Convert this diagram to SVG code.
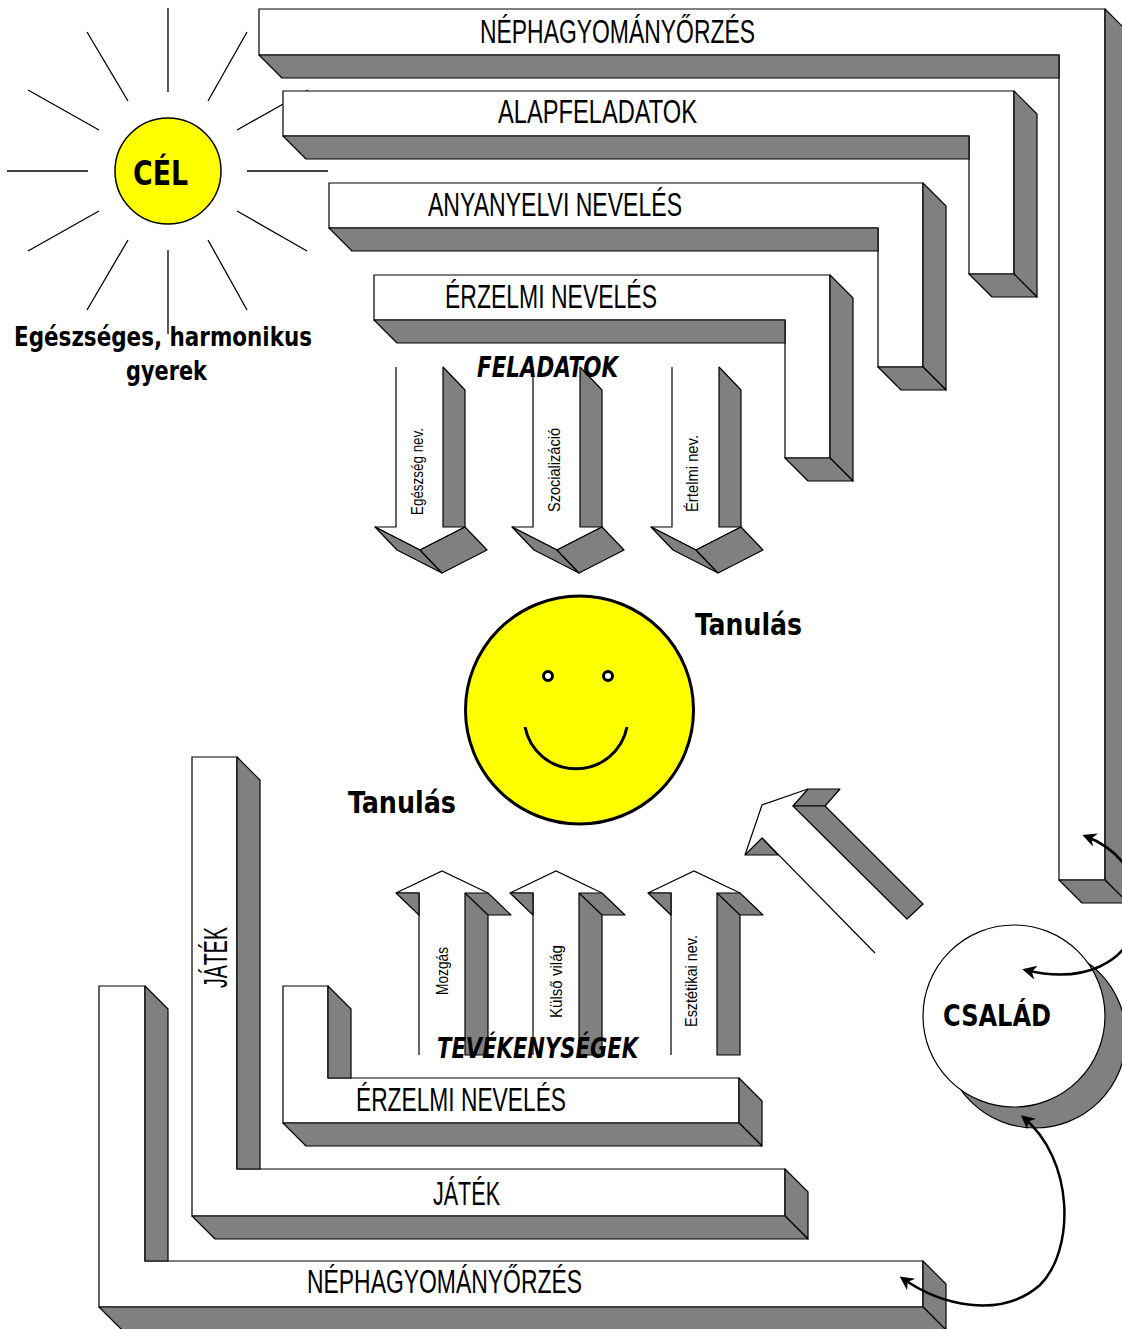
<svg xmlns="http://www.w3.org/2000/svg" width="1122" height="1329" viewBox="0 0 1122 1329">
<defs>
<style>
.g{fill:#808080;stroke:#000;stroke-width:1.2;stroke-linejoin:round}
.w{fill:#fff;stroke:#000;stroke-width:1.2}
.wf{fill:#fff;stroke:none}
.ln{fill:none;stroke:#000;stroke-width:1.2}
.ray{stroke:#000;stroke-width:1.3}
.lbl{font-family:"Liberation Sans Narrow","Liberation Sans",sans-serif;font-size:33px;fill:#000}
.sm{font-family:"Liberation Sans Narrow","Liberation Sans",sans-serif;font-size:17px;fill:#000}
.b{font-family:"DejaVu Sans Condensed","DejaVu Sans",sans-serif;font-weight:bold;fill:#000}
.bi{font-family:"DejaVu Sans Condensed","DejaVu Sans",sans-serif;font-weight:bold;font-style:italic;fill:#000}
.cur{fill:none;stroke:#000;stroke-width:2.5}
</style>
<marker id="ah" viewBox="0 0 10 10" refX="8" refY="5" markerWidth="17" markerHeight="14" markerUnits="userSpaceOnUse" orient="auto-start-reverse">
<path d="M0,0 L10,5 L0,10 L3,5 Z" fill="#000"/>
</marker>
<g id="downArrow">
<path class="wf" d="M396,367 H443 V527 H465 L420,550 L375,527 H396 Z"/>
<path class="ln" d="M396,367 V527 H375 L420,550 L465,527"/>
<path class="g" d="M443,367 L465,390 V527 H443 Z"/>
<path class="g" d="M375,527 L420,550 L442,573 L397,550 Z"/>
<path class="g" d="M420,550 L465,527 L487,550 L442,573 Z"/>
</g>
<g id="upArrow">
<path class="wf" d="M419,1055 V893 H396 L442,871 L488,893 H465 V1055 Z"/>
<path class="ln" d="M419,1055 V893 H396 L442,871 L488,893"/>
<path class="g" d="M396,893 L419,893 L419,915 Z"/>
<path class="g" d="M465,893 L488,893 L511,915 L488,915 V1055 H465 Z"/>
<path class="ln" d="M465,893 L488,915"/>
</g>
</defs>
<rect width="1122" height="1329" fill="#fff"/>

<g id="sun">
<line class="ray" x1="168" y1="8" x2="168" y2="92"/>
<line class="ray" x1="168" y1="250" x2="168" y2="334"/>
<line class="ray" x1="7" y1="171" x2="88" y2="171"/>
<line class="ray" x1="247" y1="171" x2="328" y2="171"/>
<line class="ray" x1="87" y1="32" x2="128" y2="101"/>
<line class="ray" x1="247" y1="32" x2="208" y2="101"/>
<line class="ray" x1="28" y1="90" x2="99" y2="130"/>
<line class="ray" x1="308" y1="90" x2="237" y2="130"/>
<line class="ray" x1="99" y1="211" x2="28" y2="251"/>
<line class="ray" x1="237" y1="211" x2="307" y2="251"/>
<line class="ray" x1="128" y1="240" x2="87" y2="310"/>
<line class="ray" x1="208" y1="240" x2="247" y2="310"/>
<circle cx="168" cy="171" r="53" fill="#ffff00" stroke="#000" stroke-width="1.5"/>
<text class="b" x="133" y="185" font-size="34" textLength="55" lengthAdjust="spacingAndGlyphs">CÉL</text>
<text class="b" x="14" y="346" font-size="27" textLength="298" lengthAdjust="spacingAndGlyphs">Egészséges, harmonikus</text>
<text class="b" x="126" y="380" font-size="27" textLength="81" lengthAdjust="spacingAndGlyphs">gyerek</text>
</g>

<g id="top-nephagyomany">
<path class="w" d="M259,9 H1105 V880 H1059 V55 H259 Z"/>
<path class="g" d="M259,55 L282,78 H1059 V55 Z"/>
<path class="g" d="M1105,9 L1128,32 V903 L1105,880 Z"/>
<path class="g" d="M1059,880 H1105 L1128,903 H1082 Z"/>
<text class="lbl" x="480" y="43" textLength="275" lengthAdjust="spacingAndGlyphs">NÉPHAGYOMÁNYŐRZÉS</text>
</g>
<g id="top-alapfeladatok">
<path class="w" d="M283,91 H1014 V274 H969 V136 H283 Z"/>
<path class="g" d="M283,136 L306,159 H969 V136 Z"/>
<path class="g" d="M1014,91 L1037,114 V297 L1014,274 Z"/>
<path class="g" d="M969,274 H1014 L1037,297 H992 Z"/>
<text class="lbl" x="498" y="123" textLength="199" lengthAdjust="spacingAndGlyphs">ALAPFELADATOK</text>
</g>
<g id="top-anyanyelvi">
<path class="w" d="M329,183 H923 V367 H878 V228 H329 Z"/>
<path class="g" d="M329,228 L352,251 H878 V228 Z"/>
<path class="g" d="M923,183 L946,206 V390 L923,367 Z"/>
<path class="g" d="M878,367 H923 L946,390 H901 Z"/>
<text class="lbl" x="428" y="216" textLength="254" lengthAdjust="spacingAndGlyphs">ANYANYELVI NEVELÉS</text>
</g>
<g id="top-erzelmi">
<path class="w" d="M374,275 H830 V458 H785 V320 H374 Z"/>
<path class="g" d="M374,320 L397,343 H785 V320 Z"/>
<path class="g" d="M830,275 L853,298 V481 L830,458 Z"/>
<path class="g" d="M785,458 H830 L853,481 H808 Z"/>
<text class="lbl" x="445" y="308" textLength="212" lengthAdjust="spacingAndGlyphs">ÉRZELMI NEVELÉS</text>
</g>

<g id="feladatok">
<use href="#downArrow"/>
<use href="#downArrow" transform="translate(137,0)"/>
<use href="#downArrow" transform="translate(276,0)"/>
<text class="sm" transform="translate(423,515) rotate(-90)" textLength="87" lengthAdjust="spacingAndGlyphs">Egészség nev.</text>
<text class="sm" transform="translate(560,512) rotate(-90)" textLength="84" lengthAdjust="spacingAndGlyphs">Szocializáció</text>
<text class="sm" transform="translate(698,512) rotate(-90)" textLength="77" lengthAdjust="spacingAndGlyphs">Értelmi nev.</text>
<text class="bi" x="477" y="377" font-size="29" textLength="141" lengthAdjust="spacingAndGlyphs">FELADATOK</text>
</g>

<g id="smiley">
<circle cx="579.5" cy="710" r="114" fill="#ffff00" stroke="#000" stroke-width="3"/>
<circle cx="548" cy="676" r="4.5" fill="#fff" stroke="#000" stroke-width="3"/>
<circle cx="608" cy="676" r="4.5" fill="#fff" stroke="#000" stroke-width="3"/>
<path d="M525,727 A52,52 0 0 0 627,727" fill="none" stroke="#000" stroke-width="3"/>
</g>
<text class="b" x="695" y="635" font-size="31" textLength="107" lengthAdjust="spacingAndGlyphs">Tanulás</text>
<text class="b" x="348" y="813" font-size="31" textLength="108" lengthAdjust="spacingAndGlyphs">Tanulás</text>

<g id="diag-arrow">
<path class="ln" d="M745,855 L762,805 L808,789"/>
<path class="ln" d="M762,838 L875,953"/>
<path class="g" d="M745,855 L762,838 L778,855 Z"/>
<path class="g" d="M808,789 H840 L825,806 H793 Z"/>
<path class="g" d="M793,806 H825 L923,904 L907,919 Z"/>
</g>

<g id="bottom-nephagyomany">
<path class="w" d="M99,986 H145 V1261 H923 V1307 H99 Z"/>
<path class="g" d="M145,986 L168,1009 V1261 H145 Z"/>
<path class="g" d="M923,1261 L946,1284 V1330 L923,1307 Z"/>
<path class="g" d="M99,1307 H923 L946,1330 H122 Z"/>
<text class="lbl" x="307" y="1293" textLength="275" lengthAdjust="spacingAndGlyphs">NÉPHAGYOMÁNYŐRZÉS</text>
</g>
<g id="bottom-jatek">
<path class="w" d="M192,757 H237 V1169 H785 V1216 H192 Z"/>
<path class="g" d="M237,757 L260,780 V1169 H237 Z"/>
<path class="g" d="M785,1169 L808,1192 V1239 L785,1216 Z"/>
<path class="g" d="M192,1216 H785 L808,1239 H215 Z"/>
<text class="lbl" x="433" y="1205" textLength="67" lengthAdjust="spacingAndGlyphs">JÁTÉK</text>
<text class="lbl" transform="translate(227,988) rotate(-90)" textLength="61" lengthAdjust="spacingAndGlyphs">JÁTÉK</text>
</g>
<g id="bottom-erzelmi">
<path class="w" d="M283,986 H328 V1078 H739 V1123 H283 Z"/>
<path class="g" d="M328,986 L351,1009 V1078 H328 Z"/>
<path class="g" d="M739,1078 L762,1101 V1146 L739,1123 Z"/>
<path class="g" d="M283,1123 H739 L762,1146 H306 Z"/>
<text class="lbl" x="356" y="1111" textLength="210" lengthAdjust="spacingAndGlyphs">ÉRZELMI NEVELÉS</text>
</g>

<g id="tevekenysegek">
<use href="#upArrow"/>
<use href="#upArrow" transform="translate(114,0)"/>
<use href="#upArrow" transform="translate(252,0)"/>
<text class="sm" transform="translate(448,995) rotate(-90)" textLength="48" lengthAdjust="spacingAndGlyphs">Mozgás</text>
<text class="sm" transform="translate(562,1018) rotate(-90)" textLength="73" lengthAdjust="spacingAndGlyphs">Külső világ</text>
<text class="sm" transform="translate(697,1027) rotate(-90)" textLength="92" lengthAdjust="spacingAndGlyphs">Esztétikai nev.</text>
<text class="bi" x="437" y="1058" font-size="28" textLength="201" lengthAdjust="spacingAndGlyphs">TEVÉKENYSÉGEK</text>
</g>

<g id="csalad">
<circle cx="1035" cy="1037" r="91" fill="#808080" stroke="#000" stroke-width="1.2"/>
<circle cx="1014" cy="1016" r="91" fill="#fff" stroke="#000" stroke-width="1.2"/>
<text class="b" x="943" y="1026" font-size="30" textLength="108" lengthAdjust="spacingAndGlyphs">CSALÁD</text>
</g>

<g id="connectors">
<path class="cur" d="M1085,836 C1175,870 1150,1000 1025,970" marker-start="url(#ah)" marker-end="url(#ah)"/>
<path class="cur" d="M1023,1117 C1075,1160 1075,1250 1040,1285 C1000,1320 940,1305 902,1278" marker-start="url(#ah)" marker-end="url(#ah)"/>
</g>
</svg>
